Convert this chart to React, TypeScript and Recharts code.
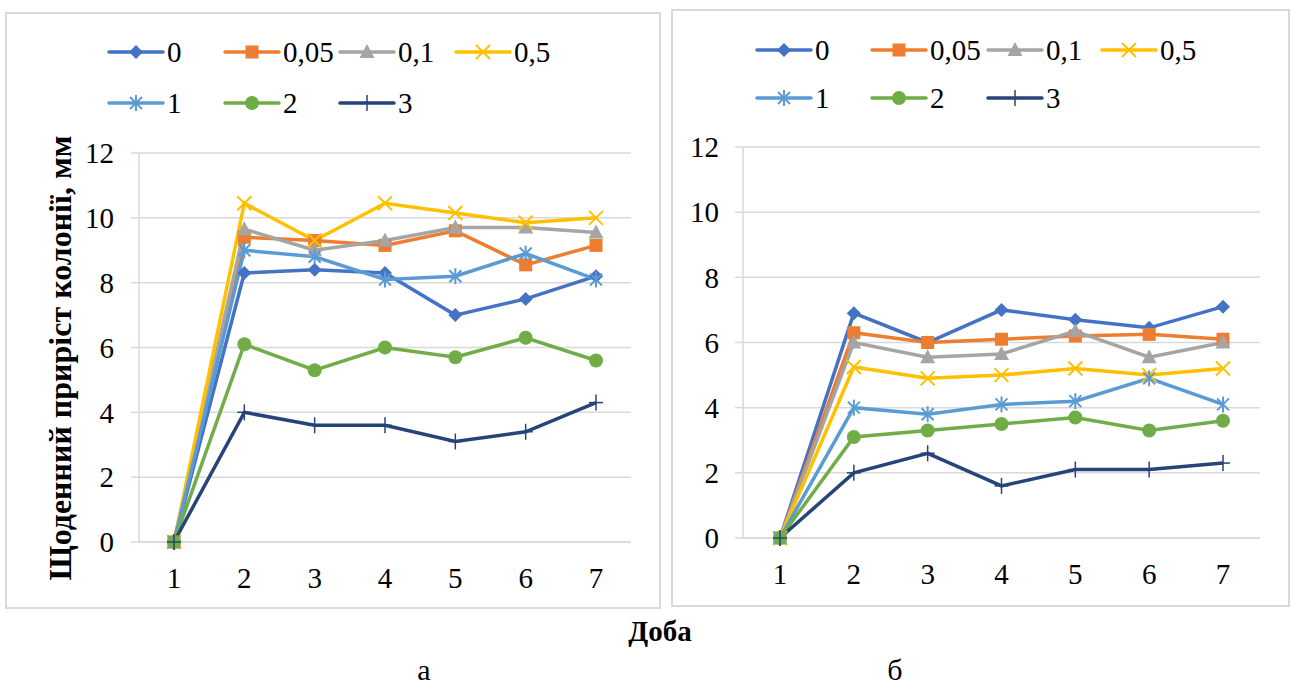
import React from 'react'
import { LineChart, Line, XAxis, YAxis, CartesianGrid } from 'recharts'

const days = ['1', '2', '3', '4', '5', '6', '7']
const seriesNames = ['0', '0,05', '0,1', '0,5', '1', '2', '3']
const yTicks = [0, 2, 4, 6, 8, 10, 12]

// panel "а"
const a0 = [0, 8.3, 8.4, 8.3, 7.0, 7.5, 8.2]
const a005 = [0, 9.4, 9.3, 9.15, 9.6, 8.55, 9.15]
const a01 = [0, 9.65, 9.0, 9.3, 9.7, 9.7, 9.55]
const a05 = [0, 10.45, 9.3, 10.45, 10.15, 9.85, 10.0]
const a1 = [0, 9.0, 8.8, 8.1, 8.2, 8.9, 8.1]
const a2 = [0, 6.1, 5.3, 6.0, 5.7, 6.3, 5.6]
const a3 = [0, 4.0, 3.6, 3.6, 3.1, 3.4, 4.3]

// panel "б"
const b0 = [0, 6.9, 6.0, 7.0, 6.7, 6.45, 7.1]
const b005 = [0, 6.3, 6.0, 6.1, 6.2, 6.25, 6.1]
const b01 = [0, 6.0, 5.55, 5.65, 6.35, 5.55, 6.0]
const b05 = [0, 5.25, 4.9, 5.0, 5.2, 5.0, 5.2]
const b1 = [0, 4.0, 3.8, 4.1, 4.2, 4.9, 4.1]
const b2 = [0, 3.1, 3.3, 3.5, 3.7, 3.3, 3.6]
const b3 = [0, 2.0, 2.6, 1.6, 2.1, 2.1, 2.3]

const COLORS = ['#4472C4', '#ED7D31', '#A5A5A5', '#FFC000', '#5B9BD5', '#70AD47', '#264478']
const MARKERS = ['diamond', 'square', 'triangle', 'x', 'star', 'circle', 'plus']
const FONT = 'Times New Roman, Liberation Serif, DejaVu Serif, serif'
const GRID = '#D9D9D9'

const buildRows = (series: number[][]) =>
  days.map((d, i) => {
    const row: Record<string, any> = { day: d }
    series.forEach((s, k) => { row['s' + k] = s[i] })
    return row
  })

const rowsA = buildRows([a0, a005, a01, a05, a1, a2, a3])
const rowsB = buildRows([b0, b005, b01, b05, b1, b2, b3])

function Marker({ kind, cx, cy, color }: { kind: string; cx: number; cy: number; color: string }) {
  switch (kind) {
    case 'diamond':
      return <polygon points={`${cx},${cy - 7} ${cx + 7},${cy} ${cx},${cy + 7} ${cx - 7},${cy}`} fill={color} />
    case 'square':
      return <rect x={cx - 6.5} y={cy - 6.5} width={13} height={13} fill={color} />
    case 'triangle':
      return <polygon points={`${cx},${cy - 8} ${cx + 7.5},${cy + 6} ${cx - 7.5},${cy + 6}`} fill={color} />
    case 'x':
      return (
        <g stroke={color} strokeWidth={2}>
          <line x1={cx - 7} y1={cy - 7} x2={cx + 7} y2={cy + 7} />
          <line x1={cx - 7} y1={cy + 7} x2={cx + 7} y2={cy - 7} />
        </g>
      )
    case 'star':
      return (
        <g stroke={color} strokeWidth={2}>
          <line x1={cx - 6} y1={cy - 6} x2={cx + 6} y2={cy + 6} />
          <line x1={cx - 6} y1={cy + 6} x2={cx + 6} y2={cy - 6} />
          <line x1={cx} y1={cy - 8} x2={cx} y2={cy + 8} />
        </g>
      )
    case 'circle':
      return <circle cx={cx} cy={cy} r={7} fill={color} />
    default:
      return (
        <g stroke={color} strokeWidth={1.5}>
          <line x1={cx} y1={cy - 8} x2={cx} y2={cy + 8} />
          <line x1={cx - 7} y1={cy} x2={cx + 7} y2={cy} />
        </g>
      )
  }
}

function Panel({ rows, left, width, margin, pad, tickGap }: any) {
  return (
    <div style={{ position: 'absolute', left, top: 0 }}>
      <LineChart width={width} height={610} data={rows} margin={margin}>
        <CartesianGrid vertical={false} stroke={GRID} strokeWidth={1.5} />
        <XAxis
          dataKey="day"
          padding={{ left: pad, right: pad }}
          height={40}
          tickLine={false}
          tickSize={0}
          tickMargin={25}
          axisLine={{ stroke: GRID, strokeWidth: 1.5 }}
          tick={{ fontSize: 29, fill: '#000', fontFamily: FONT }}
        />
        <YAxis
          domain={[0, 12]}
          ticks={yTicks}
          width={60}
          tickSize={8}
          tickMargin={tickGap}
          tickLine={{ stroke: GRID, strokeWidth: 1.5 }}
          axisLine={{ stroke: GRID, strokeWidth: 1.5 }}
          tick={{ fontSize: 29, fill: '#000', fontFamily: FONT }}
        />
        {seriesNames.map((n, k) => (
          <Line
            key={n}
            dataKey={'s' + k}
            name={n}
            stroke={COLORS[k]}
            strokeWidth={3.5}
            isAnimationActive={false}
            activeDot={false}
            dot={(p: any) => (
              <Marker key={k + '-' + p.index} kind={MARKERS[k]} cx={p.cx} cy={p.cy} color={COLORS[k]} />
            )}
          />
        ))}
      </LineChart>
    </div>
  )
}

function LegendBlock({ cols, rowsY }: { cols: number[]; rowsY: number[] }) {
  return (
    <g>
      {seriesNames.map((n, k) => {
        const x = cols[k % 4]
        const y = rowsY[Math.floor(k / 4)]
        return (
          <g key={n}>
            <line x1={x} y1={y} x2={x + 54} y2={y} stroke={COLORS[k]} strokeWidth={3.5} strokeLinecap="round" />
            <Marker kind={MARKERS[k]} cx={x + 27} cy={y} color={COLORS[k]} />
            <text x={x + 58} y={y + 10} fontSize={29} fontFamily={FONT} fill="#000">{n}</text>
          </g>
        )
      })}
    </g>
  )
}

export default function App() {
  return (
    <div style={{ position: 'absolute', left: 0, top: 0, width: 1293, height: 686, background: '#fff', overflow: 'hidden', fontFamily: FONT }}>
      <div style={{ position: 'absolute', left: 5, top: 12, width: 656, height: 597, border: `2px solid ${GRID}`, boxSizing: 'border-box' }} />
      <div style={{ position: 'absolute', left: 671, top: 9, width: 619, height: 598, border: `2px solid ${GRID}`, boxSizing: 'border-box' }} />
      <Panel rows={rowsA} left={0} width={660} margin={{ top: 153, right: 29, bottom: 28, left: 79 }} pad={35} tickGap={17} />
      <Panel rows={rowsB} left={670} width={623} margin={{ top: 147, right: 33, bottom: 32, left: 13 }} pad={37} tickGap={16} />
      <svg width={1293} height={686} style={{ position: 'absolute', left: 0, top: 0, pointerEvents: 'none' }}>
        <LegendBlock cols={[109, 225, 340, 456]} rowsY={[52, 103]} />
        <LegendBlock cols={[757, 872, 988, 1102]} rowsY={[50, 98]} />
        <text
          transform="translate(71,358) rotate(-90)"
          textAnchor="middle"
          fontSize={32}
          fontWeight="bold"
          fontFamily={FONT}
          fill="#000"
        >
          Щоденний приріст колонії, мм
        </text>
        <text x={660} y={641} textAnchor="middle" fontSize={29} fontWeight="bold" fontFamily={FONT} fill="#000">Доба</text>
        <text x={424} y={680} textAnchor="middle" fontSize={30} fontFamily={FONT} fill="#000">а</text>
        <text x={895} y={680} textAnchor="middle" fontSize={30} fontFamily={FONT} fill="#000">б</text>
      </svg>
    </div>
  )
}
